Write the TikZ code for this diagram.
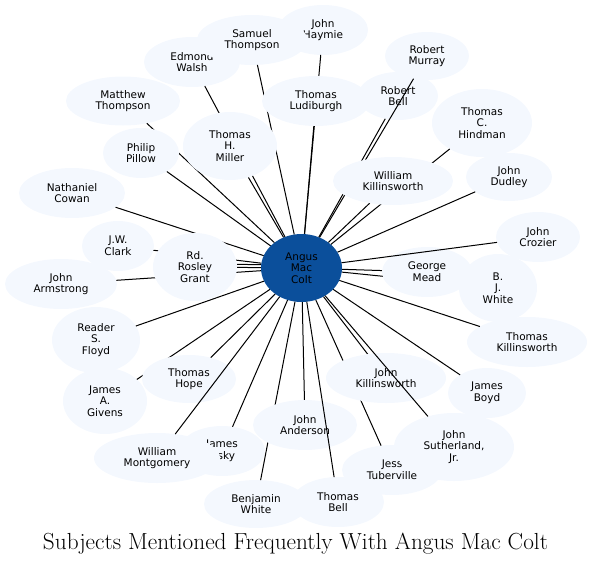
\documentclass[tikz,border=0pt]{standalone}
\usepackage{fontspec}
\newfontfamily\nodefont{DejaVu Sans}
\usetikzlibrary{shapes.geometric}
\definecolor{nodefill}{RGB}{244,248,254}
\definecolor{hubfill}{RGB}{11,79,155}
\pgfdeclarelayer{layA}
\pgfdeclarelayer{layB}
\pgfdeclarelayer{layC}
\pgfsetlayers{layA,layB,layC,main}
\tikzset{
  nd/.style={ellipse, fill=nodefill, draw=none, inner sep=0pt, outer sep=0pt,
    align=center, text=black, font=\nodefont\fontsize{10.5}{11.7}\selectfont},
  hub/.style={nd, fill=hubfill},
  ed/.style={draw=black, line width=1pt},
}
\newcommand{\mknode}[6]{\node[nd, minimum width=#4pt, minimum height=#5pt] (#1) at (#2,#3) {#6};}
\begin{document}
\begin{tikzpicture}[x=1pt,y=-1pt]
\useasboundingbox (0,0) rectangle (594,565);
% group A nodes
\begin{pgfonlayer}{layA}
\mknode{haymie}{323}{30}{90}{50}{John\\Haymie}
\mknode{walsh}{192}{62}{96}{50}{Edmond\\Walsh}
\mknode{samuel}{252}{40}{110}{50}{Samuel\\Thompson}
\mknode{murray}{427}{56}{84}{48}{Robert\\Murray}
\mknode{bell}{398}{96}{80}{48}{Robert\\Bell}
\mknode{lisky}{222}{451}{86}{50}{James\\Lisky}
\mknode{montgomery}{157}{458}{126}{50}{William\\Montgomery}
\mknode{jess}{392}{470}{100}{50}{Jess\\Tuberville}
\mknode{sutherland}{454}{447}{120}{68}{John\\Sutherland,\\Jr.}
\mknode{cowan}{72}{193}{106}{50}{Nathaniel\\Cowan}
\mknode{matthew}{123}{101}{114}{49}{Matthew\\Thompson}
\mknode{clark}{118}{246}{72}{50}{J.W.\\Clark}
\mknode{armstrong}{61}{284}{112}{50}{John\\Armstrong}
\mknode{floyd}{96}{340}{88}{66}{Reader\\S.\\Floyd}
\mknode{givens}{105}{401}{84}{66}{James\\A.\\Givens}
\mknode{benwhite}{256}{504}{104}{48}{Benjamin\\White}
\mknode{tbell}{338}{502}{92}{50}{Thomas\\Bell}
\mknode{boyd}{487}{393}{78}{50}{James\\Boyd}
\mknode{tkillins}{527}{342}{120}{50}{Thomas\\Killinsworth}
\mknode{bjwhite}{498}{288}{78}{68}{B.\\J.\\White}
\mknode{crozier}{538}{237}{84}{50}{John\\Crozier}
\mknode{dudley}{509}{177}{86}{48}{John\\Dudley}
\mknode{hindman}{482}{123}{100}{68}{Thomas\\C.\\Hindman}
\end{pgfonlayer}
% group C nodes
\begin{pgfonlayer}{layC}
\mknode{ludiburgh}{316}{101}{108}{50}{Thomas\\Ludiburgh}
\mknode{miller}{230}{146}{94}{68}{Thomas\\H.\\Miller}
\mknode{pillow}{141}{153}{76}{50}{Philip\\Pillow}
\mknode{grant}{195}{267}{84}{68}{Rd.\\Rosley\\Grant}
\mknode{hope}{189}{379}{94}{48}{Thomas\\Hope}
\mknode{anderson}{305}{425}{104}{50}{John\\Anderson}
\mknode{jk}{386}{378}{120}{50}{John\\Killinsworth}
\mknode{mead}{427}{272}{90}{50}{George\\Mead}
\mknode{wk}{393}{181}{120}{48}{William\\Killinsworth}
\node[hub, minimum width=81pt, minimum height=68pt] (hub) at (301.5,268) {Angus\\Mac\\Colt};
\end{pgfonlayer}
% group B edges (beneath group C nodes)
\begin{pgfonlayer}{layB}
\foreach \t in {samuel,haymie,walsh,matthew,cowan,clark,armstrong,givens,benwhite,jess,bjwhite,bell,murray,hindman,pillow,miller,ludiburgh,grant,hope,floyd,lisky,anderson,jk,boyd,tkillins,mead,wk,dudley}
  \draw[ed] (hub) -- (\t);
\draw[ed, transform canvas={yshift=3pt}] (hub) -- (grant);
\end{pgfonlayer}
% group D edges (on top)
\foreach \t in {sutherland,tbell,crozier,montgomery}
  \draw[ed] (hub) -- (\t);
% title
\node[anchor=base, inner sep=0pt] (title) at (295.5,549)
  {\resizebox{505pt}{!}{\fontsize{20}{24}\selectfont Subjects Mentioned Frequently With Angus Mac Colt}};
\end{tikzpicture}
\end{document}
